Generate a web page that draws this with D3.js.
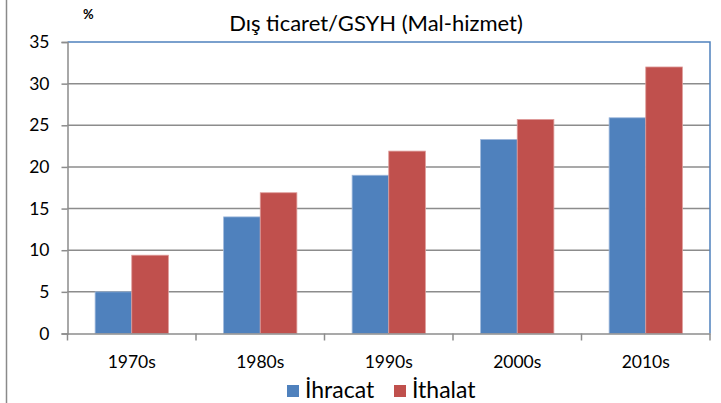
<!DOCTYPE html>
<html>
<head>
<meta charset="utf-8">
<script src="https://cdn.jsdelivr.net/npm/d3@7"></script>
<style>
  body { margin: 0; background: #fff; }
  text { font-family: Lato, "Open Sans", sans-serif; fill: #000; }
</style>
</head>
<body>
<div id="chart"></div>
<script>
// data
var decades = ["1970s", "1980s", "1990s", "2000s", "2010s"];
var seriesNames = ["İhracat", "İthalat"];
var exportsVals = [5.0, 14.0, 19.0, 23.3, 25.9];
var importsVals = [9.4, 16.9, 21.9, 25.7, 32.0];
var yTicks = [0, 5, 10, 15, 20, 25, 30, 35];
var colors = ["#4F81BD", "#C0504D"];
var edgeColors = ["#9DB7DB", "#DE9A98"];

var width = 721, height = 403;
var plotLeft = 67.5, plotRight = 710, plotTop = 42, plotBottom = 333.5;

var svg = d3.select("#chart").append("svg")
  .attr("width", width)
  .attr("height", height);

// frame edge on the left
svg.append("line")
  .attr("x1", 6.5).attr("x2", 6.5)
  .attr("y1", 0).attr("y2", height)
  .attr("stroke", "#8a8a8a").attr("stroke-width", 1.5);

var y = d3.scaleLinear().domain([0, 35]).range([plotBottom, plotTop]);
var x0 = d3.scaleBand().domain(decades).range([plotLeft, plotRight]).padding(0);
var groupW = x0.bandwidth() * 0.57;
var x1 = d3.scaleBand().domain(seriesNames)
  .range([(x0.bandwidth() - groupW) / 2, (x0.bandwidth() + groupW) / 2]);

// gridlines
svg.append("g").selectAll("line")
  .data(yTicks.filter(function(d) { return d > 0 && d < 35; }))
  .enter().append("line")
  .attr("x1", plotLeft).attr("x2", plotRight)
  .attr("y1", function(d) { return y(d); })
  .attr("y2", function(d) { return y(d); })
  .attr("stroke", "#8c8c8c").attr("stroke-width", 1.5);

// plot area border (top, right)
svg.append("path")
  .attr("d", "M" + plotLeft + "," + y(35) + "H" + plotRight + "V" + plotBottom)
  .attr("fill", "none").attr("stroke", "#4F81BD").attr("stroke-width", 1.5);

// bars
var rows = decades.map(function(d, i) {
  return { decade: d, vals: [exportsVals[i], importsVals[i]] };
});
var groups = svg.append("g").selectAll("g")
  .data(rows).enter().append("g")
  .attr("transform", function(d) { return "translate(" + x0(d.decade) + ",0)"; });

groups.selectAll("rect")
  .data(function(d) { return d.vals.map(function(v, j) { return { s: seriesNames[j], v: v, j: j }; }); })
  .enter().append("rect")
  .attr("x", function(d) { return x1(d.s); })
  .attr("width", x1.bandwidth())
  .attr("y", function(d) { return y(d.v); })
  .attr("height", function(d) { return y(0) - y(d.v); })
  .attr("fill", function(d) { return colors[d.j]; })
  .attr("stroke", function(d) { return edgeColors[d.j]; })
  .attr("stroke-width", 0.8);

// y axis
var yAxis = d3.axisLeft(y).tickValues(yTicks).tickSize(6).tickPadding(12);
var yg = svg.append("g")
  .attr("transform", "translate(" + plotLeft + ",0)")
  .call(yAxis);
yg.select(".domain").attr("stroke", "#8c8c8c").attr("stroke-width", 1.5);
yg.selectAll(".tick line").attr("stroke", "#8c8c8c").attr("stroke-width", 1.5);
yg.selectAll(".tick text").style("font-size", "17.5px").style("font-family", "Lato, sans-serif");

// x axis
var xAxis = d3.axisBottom(x0).tickSize(0).tickPadding(22);
var xg = svg.append("g")
  .attr("transform", "translate(0," + plotBottom + ")")
  .call(xAxis);
xg.select(".domain").attr("stroke", "#8c8c8c").attr("stroke-width", 1.5);
xg.selectAll(".tick text").style("font-size", "17.5px").style("font-family", "Lato, sans-serif");
// category boundary ticks
var bounds = decades.map(function(d) { return x0(d); }).concat([plotRight]);
xg.selectAll(".btick").data(bounds).enter().append("line")
  .attr("class", "btick")
  .attr("x1", function(d) { return d; }).attr("x2", function(d) { return d; })
  .attr("y1", 0).attr("y2", 7)
  .attr("stroke", "#8c8c8c").attr("stroke-width", 1.5);

// title and unit
svg.append("text")
  .attr("x", 376).attr("y", 31)
  .attr("text-anchor", "middle")
  .style("font-size", "22px")
  .text("Dış ticaret/GSYH (Mal-hizmet)");
svg.append("text")
  .attr("x", 83).attr("y", 19)
  .style("font-size", "13px").style("font-weight", "bold")
  .text("%");

// legend
var legend = svg.append("g");
var legX = [287, 394];
seriesNames.forEach(function(s, i) {
  legend.append("rect")
    .attr("x", legX[i]).attr("y", 385)
    .attr("width", 12).attr("height", 12)
    .attr("fill", colors[i]);
  legend.append("text")
    .attr("x", legX[i] + 18).attr("y", 398)
    .style("font-size", "23px")
    .text(s);
});
</script>
</body>
</html>
